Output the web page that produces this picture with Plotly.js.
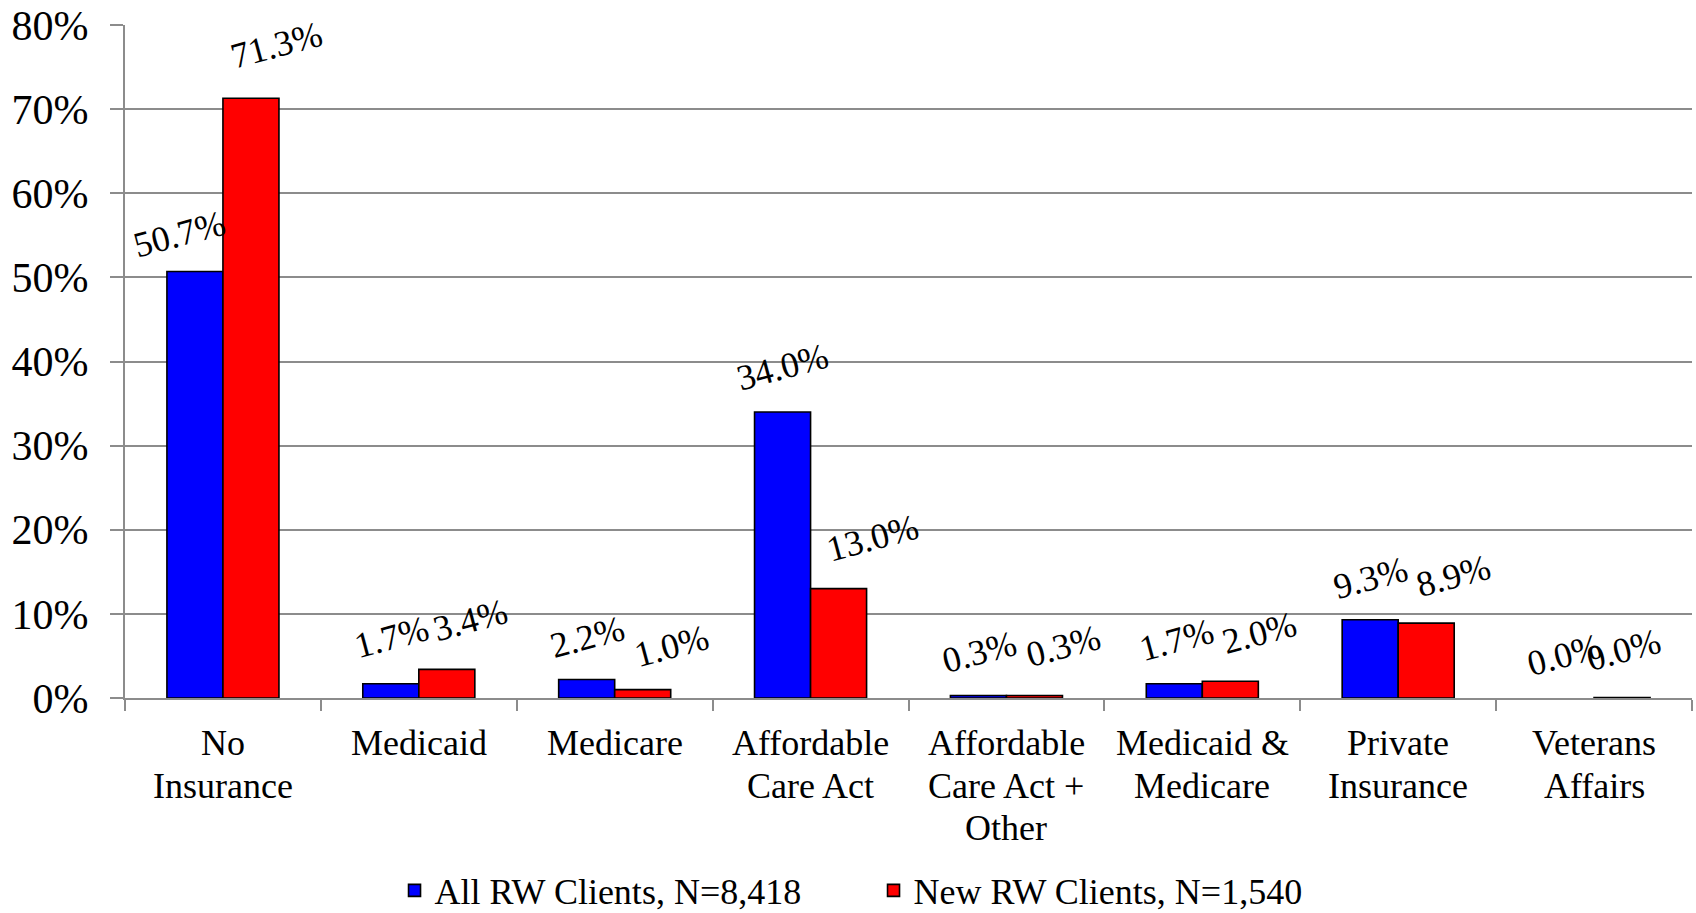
<!DOCTYPE html>
<html>
<head>
<meta charset="utf-8">
<script src="https://cdn.plot.ly/plotly-3.0.1.min.js"></script>
<style>
  html, body { margin: 0; padding: 0; background: #ffffff; }
  #chart { width: 1696px; height: 913px; }
</style>
</head>
<body>
<div id="chart"></div>
<script>
// ---- data ----
const categories = [
  'No<br>Insurance',
  'Medicaid',
  'Medicare',
  'Affordable<br>Care Act',
  'Affordable<br>Care Act +<br>Other',
  'Medicaid &<br>Medicare',
  'Private<br>Insurance',
  'Veterans<br>Affairs'
];
const seriesNames = ['All RW Clients, N=8,418', 'New RW Clients, N=1,540'];
const allClients = [50.7, 1.7, 2.2, 34.0, 0.3, 1.7, 9.3, 0.0];
const newClients = [71.3, 3.4, 1.0, 13.0, 0.3, 2.0, 8.9, 0.04];
const allLabels = ['50.7%', '1.7%', '2.2%', '34.0%', '0.3%', '1.7%', '9.3%', '0.0%'];
const newLabels = ['71.3%', '3.4%', '1.0%', '13.0%', '0.3%', '2.0%', '8.9%', '0.0%'];
const yTickVals = [0, 10, 20, 30, 40, 50, 60, 70, 80];
const yTickText = ['0%', '10%', '20%', '30%', '40%', '50%', '60%', '70%', '80%'];

// ---- label placement nudges (pixels), styling only ----
const blueNudgeX = [-15, 1, 1, 0, 1, 2, 0, -2];
const blueNudgeY = [37, 47, 42, 45, 43, 44, 42, 43];
const redNudgeX = [26, 24, 29, 34, 29, 29, 27, 1];
const redNudgeY = [53, 49, 44, 51, 49, 48, 47, 48];
const catLineOffsets = [45, 87.5, 130];

const FONT = 'Liberation Serif, Times New Roman, serif';
const GRID = '#8c8c8c';
const BARGAP = 0.428;

const traces = [
  {
    type: 'bar', name: seriesNames[0], x: categories, y: allClients,
    marker: { color: '#0000ff', line: { color: '#000000', width: allClients.map(v => v > 0 ? 1.6 : 0) } },
    hoverinfo: 'none'
  },
  {
    type: 'bar', name: seriesNames[1], x: categories, y: newClients,
    marker: { color: '#ff0000', line: { color: '#000000', width: newClients.map(v => v > 0 ? 1.6 : 0) } },
    hoverinfo: 'none'
  }
];

const half = (1 - BARGAP) / 4;
const annotations = [];
categories.forEach((c, i) => {
  annotations.push({
    x: i - half, y: allClients[i], xref: 'x', yref: 'y',
    text: allLabels[i], showarrow: false, textangle: -15,
    xanchor: 'center', yanchor: 'middle',
    xshift: blueNudgeX[i], yshift: blueNudgeY[i],
    font: { family: FONT, size: 36, color: '#000' }
  });
  annotations.push({
    x: i + half, y: newClients[i], xref: 'x', yref: 'y',
    text: newLabels[i], showarrow: false, textangle: -15,
    xanchor: 'center', yanchor: 'middle',
    xshift: redNudgeX[i], yshift: redNudgeY[i],
    font: { family: FONT, size: 36, color: '#000' }
  });
  // category label, one annotation per line for Excel-like line spacing
  c.split('<br>').forEach((line, k) => {
    annotations.push({
      x: i, y: 0, xref: 'x', yref: 'y',
      text: line, showarrow: false,
      xanchor: 'center', yanchor: 'middle',
      yshift: -catLineOffsets[k],
      font: { family: FONT, size: 36, color: '#000' }
    });
  });
});

const layout = {
  width: 1696, height: 913,
  margin: { l: 125, r: 4, t: 25, b: 215, autoexpand: false },
  paper_bgcolor: '#ffffff', plot_bgcolor: '#ffffff',
  font: { family: FONT, color: '#000000' },
  barmode: 'group',
  bargap: BARGAP,
  bargroupgap: 0,
  showlegend: true,
  legend: {
    orientation: 'h',
    x: 0.172, xanchor: 'left',
    y: -0.286, yanchor: 'middle',
    font: { family: FONT, size: 36, color: '#000' },
    entrywidth: 434, entrywidthmode: 'pixels',
    itemclick: false, itemdoubleclick: false
  },
  xaxis: {
    type: 'category',
    automargin: false,
    showline: true, linecolor: GRID, linewidth: 2,
    showgrid: false,
    showticklabels: false,
    ticks: 'outside', tickson: 'boundaries', ticklen: 11, tickcolor: GRID, tickwidth: 2,
    fixedrange: true
  },
  yaxis: {
    automargin: false,
    range: [0, 80],
    tickvals: yTickVals, ticktext: yTickText,
    showline: true, linecolor: GRID, linewidth: 2,
    showgrid: true, gridcolor: GRID, gridwidth: 2,
    zeroline: false,
    ticks: 'outside', ticklen: 13, tickcolor: GRID, tickwidth: 2,
    tickfont: { family: FONT, size: 42, color: '#000' },
    ticklabelstandoff: 13,
    fixedrange: true
  },
  annotations: annotations
};

Plotly.newPlot('chart', traces, layout, { displayModeBar: false, staticPlot: true });
</script>
</body>
</html>
